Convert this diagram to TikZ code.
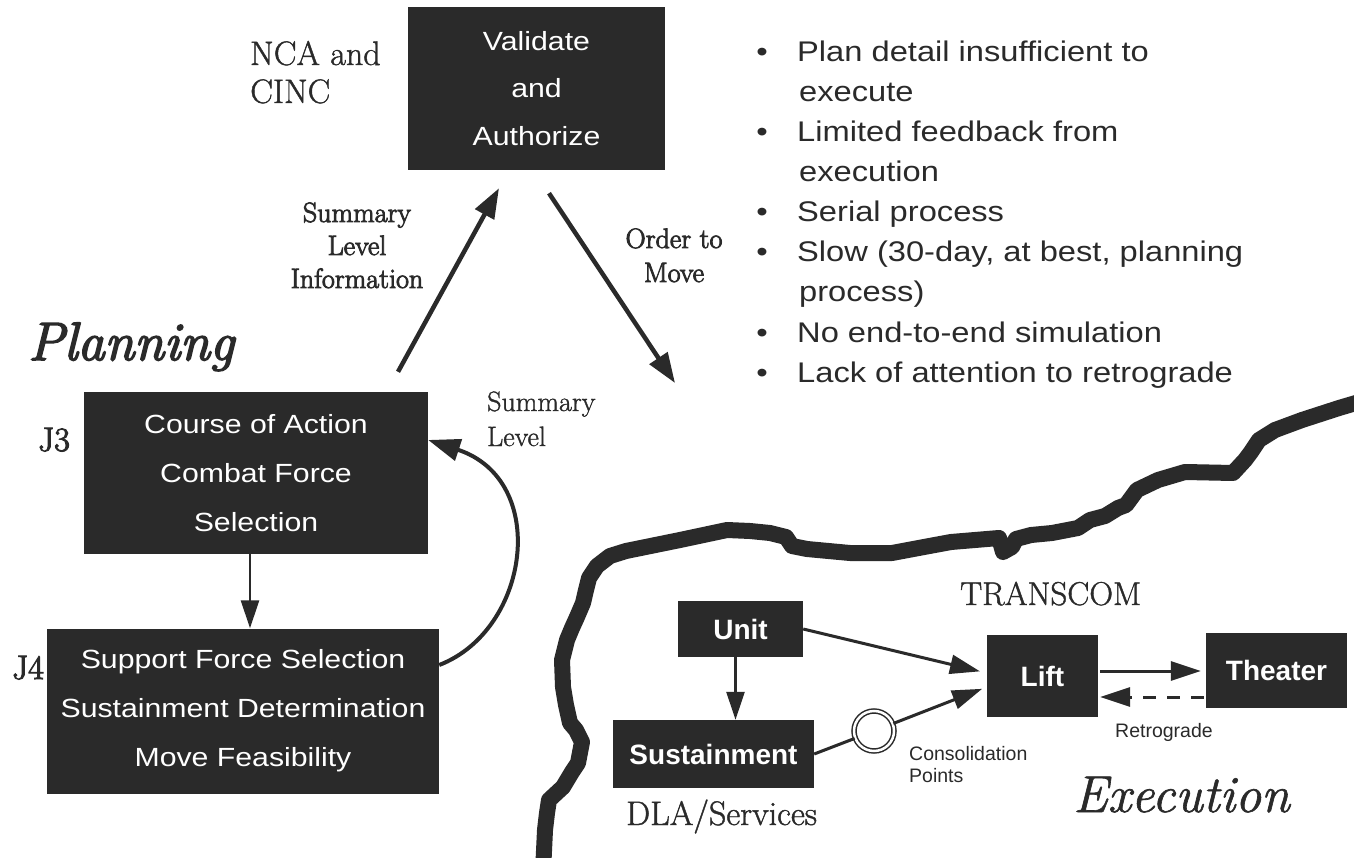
\documentclass[tikz,border=0pt]{standalone}
\usepackage{fontspec}
\usetikzlibrary{arrows.meta,calc}
\newfontfamily\hv{Liberation Sans}[FakeStretch=1.15]
\newfontfamily\hvplain{Liberation Sans}
\newfontfamily\pal{Latin Modern Roman}[FakeBold=1.2]
\newfontfamily\palsemi{Latin Modern Roman}[FakeBold=3]
\definecolor{ink}{RGB}{42,42,42}
\tikzset{
  darkbox/.style={fill=ink, text=white, inner sep=0pt, align=center},
  planbox/.style={darkbox, font=\hv\fontsize{26.3}{49}\selectfont},
  topbox/.style={darkbox, font=\hv\fontsize{26.3}{47.5}\selectfont},
  execbox/.style={darkbox, font=\hvplain\bfseries\fontsize{28}{30}\selectfont},
  lbl/.style={text=ink, inner sep=0pt, anchor=base west, font=\pal\fontsize{28}{33}\selectfont},
  clbl/.style={lbl, anchor=base, font=\palsemi\fontsize{28}{33}\selectfont},
  biglbl/.style={lbl, font=\pal\fontsize{34}{38}\selectfont},
  jlbl/.style={lbl, font=\palsemi\fontsize{34}{38}\selectfont},
  title/.style={lbl, font=\palsemi\itshape\fontsize{54}{60}\selectfont},
  note/.style={lbl, font=\hvplain\fontsize{19.5}{22}\selectfont},
  bullet/.style={lbl, font=\hv\fontsize{28.4}{40}\selectfont},
  bigarrow/.style={draw=ink, line width=4.5pt, -{Triangle[length=30pt,width=21pt]}},
  midarrow/.style={draw=ink, line width=3pt, -{Triangle[length=30pt,width=19pt]}},
  thinarrow/.style={draw=ink, line width=2.5pt, -{Triangle[length=28pt,width=18pt]}},
  river/.style={draw=ink, line width=16pt, line join=round}
}
\begin{document}
\begin{tikzpicture}[x=1pt,y=-1pt]
\useasboundingbox[fill=white] (0,0) rectangle (1354,858);

% ---- planning side ----
\node[topbox, minimum width=257pt, minimum height=163pt] (va) at (536.5,88.5)
  {Validate\\and\\Authorize};
\node[planbox, minimum width=344pt, minimum height=162pt] (j3) at (256,473)
  {Course of Action\\Combat Force\\Selection};
\node[planbox, minimum width=392pt, minimum height=165pt] (j4) at (243,711)
  {Support Force Selection\\Sustainment Determination\\Move Feasibility};

\node[biglbl] (nca) at (250,65) {NCA and};
\node[biglbl] (cinc) at (250,103) {CINC};
\node[jlbl] (jthree) at (38,451) {J3};
\node[jlbl] (jfour) at (12,679) {J4};
\node[title] (planning) at (28,360) {Planning};

\node[clbl] (sum1) at (357,222) {Summary};
\node[clbl] (sum2) at (357,255) {Level};
\node[clbl] (sum3) at (357,288) {Information};
\node[clbl] (ord1) at (674,248) {Order to};
\node[clbl] (ord2) at (674,282) {Move};
\node[lbl] (fb1) at (487,411) {Summary};
\node[lbl] (fb2) at (487,446) {Level};

% summary information up, orders down
\coordinate (infoTail) at ($(j3.north)+(142,-20)$);
\coordinate (infoHead) at ($(va.south)+(-37.5,18)$);
\coordinate (orderTail) at ($(va.south)+(12.5,23)$);
\coordinate (orderHead) at (675,383);
\draw[bigarrow] (infoTail) -- (infoHead);
\draw[bigarrow] (orderTail) -- (orderHead);

% J3 to J4 and the feedback loop
\draw[thinarrow] ([xshift=-6pt]j3.south) -- ([xshift=-6pt]j3.south |- j4.north);
\draw[draw=ink, line width=4pt, -{Triangle[length=32pt,width=22pt]}]
  ([yshift=46pt]j4.east) .. controls (530,630) and (550,480) .. ([yshift=33pt]j3.east);

% ---- shortcomings ----
\foreach \y in {62,142,222,262,342,382}
  \node[bullet, anchor=base] (dot\y) at (762,\y) {\textbullet};
\node[bullet] (b1) at (797,62) {Plan detail insufficient to};
\node[bullet] (b1b) at (799,102) {execute};
\node[bullet] (b2) at (797,142) {Limited feedback from};
\node[bullet] (b2b) at (799,182) {execution};
\node[bullet] (b3) at (797,222) {Serial process};
\node[bullet] (b4) at (797,262) {Slow (30-day, at best, planning};
\node[bullet] (b4b) at (799,302) {process)};
\node[bullet] (b5) at (797,342) {No end-to-end simulation};
\node[bullet] (b6) at (797,382) {Lack of attention to retrograde};

% ---- boundary between planning and execution ----
\draw[river] (543,872) -- (545,830) -- (547,813) -- (549,800) -- (563,787)
  -- (572,772) -- (578,763) -- (582,742) -- (576,730) -- (570,723)
  -- (566,705) -- (563,687) -- (562,660) -- (567,640) -- (572,628)
  -- (577,617) -- (583,603) -- (586,590) -- (589,578) -- (597,566)
  -- (610,556) -- (626,551) -- (680,540) -- (727,530) -- (750,531)
  -- (770,533) -- (786,537) -- (792,546) -- (807,549) -- (850,553)
  -- (892,553) -- (924,547) -- (951,542) -- (999,538) -- (1003,552)
  -- (1012,547) -- (1016,539) -- (1031,535) -- (1052,533) -- (1078,528)
  -- (1090,520) -- (1105,516) -- (1118,508) -- (1126,505) -- (1137,490)
  -- (1158,480) -- (1185,472) -- (1233,473) -- (1245,460) -- (1251,452)
  -- (1259,440) -- (1275,430) -- (1302,420) -- (1339,408) -- (1366,400);

% ---- execution side ----
\node[execbox, minimum width=125pt, minimum height=56pt] (unit) at (740.5,629) {Unit};
\node[execbox, minimum width=201pt, minimum height=68pt] (sust) at (713.5,754) {Sustainment};
\node[execbox, minimum width=111pt, minimum height=82pt] (lift) at (1042.5,676) {Lift};
\node[execbox, minimum width=141pt, minimum height=75pt] (theater) at (1276.5,670.5) {Theater};
\node[circle, draw=ink, line width=1.5pt, double=white, double distance=2.5pt,
  fill=white, minimum size=40pt, inner sep=0pt] (cp) at (874,731) {};

\node[lbl, font=\pal\fontsize{33}{36}\selectfont] (transcom) at (960,605) {TRANSCOM};
\node[biglbl] (dla) at (626,825) {DLA/Services};
\node[title, font=\pal\itshape\fontsize{52}{58}\selectfont] (exec) at (1073,812) {Execution};
\node[note] (retro) at (1115,737) {Retrograde};
\node[note] (cons1) at (909,760) {Consolidation};
\node[note] (cons2) at (909,782) {Points};

\draw[thinarrow] ([xshift=-5pt]unit.south) -- ([xshift=-5pt]unit.south |- sust.north);
\draw[midarrow, shorten >=7pt] (unit.east) -- ([yshift=3pt]lift.west);
\draw[draw=ink, line width=3pt] (sust.east) -- (cp);
\draw[midarrow, shorten >=5pt] (cp) -- ([yshift=-11pt]lift.west);
\draw[midarrow, shorten <=2pt, shorten >=5pt] ([yshift=5pt]lift.east) -- ([yshift=5pt]lift.east -| theater.west);
\draw[midarrow, dash pattern=on 13pt off 11pt, shorten <=2pt, shorten >=2pt]
  ([yshift=-21pt]lift.east -| theater.west) -- ([yshift=-21pt]lift.east);
\end{tikzpicture}
\end{document}
